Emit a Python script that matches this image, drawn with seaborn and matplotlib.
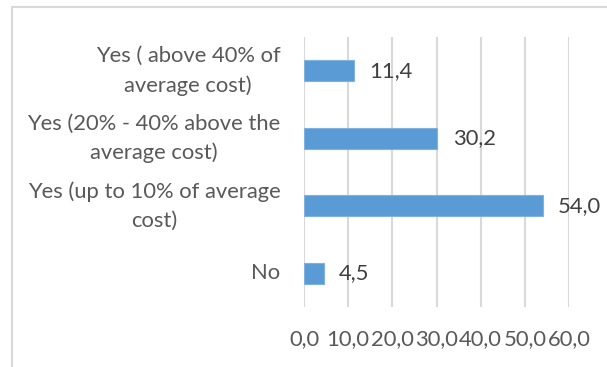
import matplotlib
matplotlib.use("Agg")
import matplotlib.pyplot as plt
import matplotlib.patches as mpatches
import pandas as pd
import seaborn as sns

categories = [
    "Yes ( above 40% of\naverage cost)",
    "Yes (20% - 40% above the\naverage cost)",
    "Yes (up to 10% of average\ncost)",
    "No",
]
values = [11.4, 30.2, 54.0, 4.5]
x_ticks = [0, 10, 20, 30, 40, 50, 60]

df = pd.DataFrame({"category": categories, "value": values})

sns.set_theme(style="white")
plt.rcParams["font.family"] = ["Lato", "DejaVu Sans"]

W, H = 607, 367
FS = 15.8
fig = plt.figure(figsize=(W / 100, H / 100), dpi=100)
ax = fig.add_axes([304 / W, (H - 307) / H, (569 - 304) / W, (307 - 37) / H])

sns.barplot(data=df, x="value", y="category", orient="h", color="#5B9BD5",
            width=0.31, saturation=1, edgecolor="#7FB2E0", linewidth=0.8,
            ax=ax, zorder=3)

ax.set_xlim(0, 60)
ax.set_ylim(3.5, -0.5)
ax.set_xticks(x_ticks)
ax.set_xticklabels([f"{t:.1f}".replace(".", ",") for t in x_ticks])
ax.set_xlabel("")
ax.set_ylabel("")
ax.grid(axis="x", color="#D9D9D9", linewidth=1.5, zorder=0)
ax.grid(axis="y", visible=False)
for s in ax.spines.values():
    s.set_visible(False)

ax.tick_params(axis="x", length=0, pad=16, labelsize=FS, labelcolor="#595959")
ax.tick_params(axis="y", length=0, pad=17, labelsize=FS, labelcolor="#595959")
for lbl in ax.get_yticklabels():
    lbl.set_multialignment("center")
    lbl.set_linespacing(1.55)
    lbl.set_verticalalignment("center")

labels = [f"{v:.1f}".replace(".", ",") for v in values]
ax.bar_label(ax.containers[0], labels=labels, padding=11, fontsize=FS,
             color="#404040")

# chart frame
fig.patches.append(mpatches.Rectangle((12 / W, -0.1), 1.2, (H - 7) / H + 0.1,
                                      transform=fig.transFigure, fill=False,
                                      edgecolor="#D9D9D9", linewidth=1.5))

fig.savefig("out.png", dpi=100)
